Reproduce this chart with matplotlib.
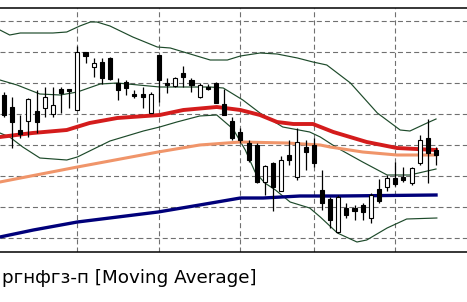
import matplotlib
matplotlib.use("Agg")
import matplotlib.pyplot as plt
import numpy as np

# ==============================================
# DATA
# ==============================================
opens = [157, 145, 122, 131, 141, 144, 138, 163, 163, 142,
         200, 185, 190, 194, 169, 170, 158, 158, 139, 197,
         169, 166, 179, 172, 155, 165, 169, 148, 131, 120,
         109, 107, 70, 89, 61, 97, 75, 105, 107, 62,
         53, 20, 44, 44, 47, 34, 63, 65, 74, 75,
         69, 89, 114, 102]
highs = [160, 155, 137, 154, 162, 165, 165, 165, 163, 206,
         200, 194, 194, 195, 174, 172, 162, 165, 160, 197,
         174, 175, 186, 174, 169, 168, 170, 163, 135, 124,
         112, 109, 87, 90, 96, 112, 124, 112, 114, 82,
         55, 57, 49, 47, 49, 59, 73, 77, 90, 85,
         85, 117, 133, 105]
lows = [135, 104, 114, 115, 119, 135, 135, 139, 144, 142,
        189, 175, 168, 172, 152, 157, 154, 144, 139, 150,
        159, 165, 165, 160, 154, 162, 149, 137, 112, 109,
        90, 69, 57, 41, 61, 87, 72, 82, 85, 42,
        24, 19, 34, 32, 32, 29, 49, 61, 66, 70,
        67, 87, 69, 87]
closes = [137, 130, 118, 153, 130, 155, 147, 159, 161, 200,
          196, 189, 174, 173, 162, 164, 156, 155, 158, 172,
          167, 174, 175, 167, 167, 163, 149, 137, 114, 112,
          92, 70, 86, 65, 92, 92, 110, 100, 89, 49,
          32, 55, 37, 41, 40, 57, 51, 74, 68, 72,
          84, 112, 99, 97]

# moving averages
red_x = [-0.5, 3.5, 7.7, 10.5, 13.9, 19.1, 22, 26.1, 29, 31.4, 33.5, 35.5, 37.9, 40.4, 44.5, 48.2, 53]
red_y = [115, 119, 122, 129, 134, 137, 142, 145, 142, 137, 130, 128, 128, 120, 110, 104, 102]
orange_x = [-0.5, 9, 18.9, 24, 29, 34.7, 38.8, 40, 44, 48.2, 53]
orange_y = [70, 85, 100, 107, 110, 109, 107, 105, 100, 97, 97]
navy_x = [-0.5, 3.6, 9, 18.9, 24, 29, 31.8, 36.3, 41.2, 53]
navy_y = [15, 22, 30, 40, 47, 54, 54, 56, 56, 57]

# bands
upper_x = [-0.5, 0.7, 2, 6, 7.7, 9.3, 10.6, 11.4, 13, 15.8, 18.8, 20.4, 25.3, 27.4,
           29, 31.4, 33.5, 36, 37.9, 39.6, 42.5, 45.8, 48.6, 49.8, 51.9, 53]
upper_y = [222, 217, 219, 219, 220, 226, 230, 230, 226, 215, 205, 204, 192, 192,
           196, 199, 198, 194, 190, 187, 169, 139, 122, 121, 129, 133]
mid_x = [-0.5, 1.6, 4.4, 6.9, 9, 11.8, 13.9, 19.1, 25.3, 26.9, 29.3, 31.4, 34.2,
         37.5, 38.8, 40.9, 44, 47, 49.8, 53]
mid_y = [172, 167, 158, 157, 160, 168, 169, 165, 165, 164, 152, 139, 125,
         120, 115, 104, 90, 77, 77, 83]
lower_x = [-0.5, 0.7, 2.3, 4.4, 7.7, 9, 13, 17.1, 19.1, 21.2, 24, 26.1, 28.1,
           29.6, 30.8, 32, 33.3, 35.1, 37.5, 38.8, 40.9, 43.3, 44.5, 47, 49.4, 53.1]
lower_y = [119, 115, 105, 94, 92, 95, 111, 121, 125, 130, 136, 137, 123,
           102, 80, 69, 62, 50, 44, 35, 19, 10, 12, 24, 33, 34]

week_starts = [9, 19, 29, 38, 48]
price_levels = [14, 45, 76, 107, 138, 169, 200, 231]
caption = "ргнфгз-п [Moving Average]"

# ==============================================
# PLOT
# ==============================================
fig = plt.figure(figsize=(4.67, 3.02), dpi=100)
ax = fig.add_axes([0, 1 - 252 / 302, 1, 244 / 302])

band_kw = dict(color="#1d4a2a", lw=0.85, zorder=2)
ax.plot(upper_x, upper_y, **band_kw)
ax.plot(mid_x, mid_y, **band_kw)
ax.plot(lower_x, lower_y, **band_kw)
ax.plot(navy_x, navy_y, color="#00007a", lw=2.4, zorder=3)
ax.plot(orange_x, orange_y, color="#f0956a", lw=2.2, zorder=3)
ax.plot(red_x, red_y, color="#d41c1c", lw=2.8, zorder=3)

x = np.arange(len(opens))
o = np.array(opens)
c = np.array(closes)
up = c >= o
ax.vlines(x, lows, highs, color="black", lw=0.9, zorder=4)
ax.bar(x, np.abs(c - o) + 0.8, bottom=np.minimum(o, c) - 0.4, width=0.5,
       color=np.where(up, "white", "black"), edgecolor="black", linewidth=0.8, zorder=5)

ax.set_xlim(-0.49, 56.8)
ax.set_ylim(0, 244)
ax.set_xticks(week_starts)
ax.set_yticks(price_levels)
ax.tick_params(length=0, labelbottom=False, labelleft=False)
ax.grid(True, color="#707070", lw=0.8, linestyle=(0, (4.5, 2.8)))
ax.set_axisbelow(True)
for s in ["left", "right"]:
    ax.spines[s].set_visible(False)
for s in ["top", "bottom"]:
    ax.spines[s].set_linewidth(1.1)
    ax.spines[s].set_color("black")

fig.text(0.004, 1 - 283 / 302, caption, fontsize=13.2, family="DejaVu Sans", va="baseline")

fig.savefig("out.png", dpi=100)
